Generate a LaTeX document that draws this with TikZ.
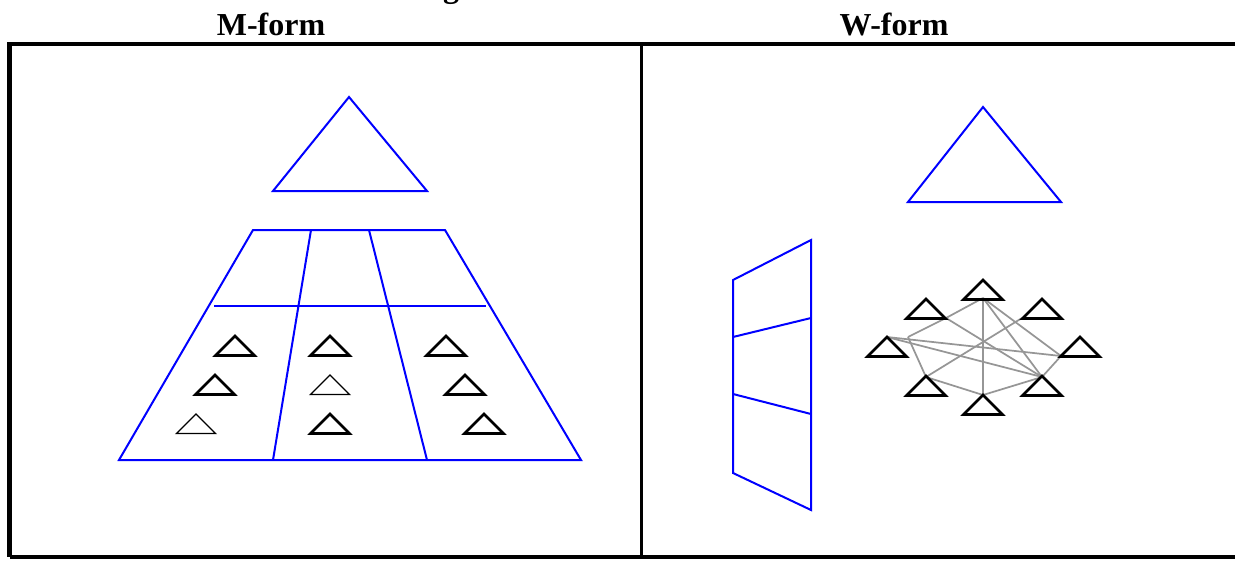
\documentclass[tikz,border=0pt]{standalone}
\usepackage{fontspec}
\setmainfont{Liberation Serif}
\definecolor{linkgray}{RGB}{150,150,150}
\tikzset{
  framethick/.style={draw=black, line width=3.3pt},
  framethin/.style={draw=black, line width=2.3pt},
  blueline/.style={draw=blue, line width=1.5pt, line join=miter},
  tri/.pic={\draw[pic actions] (-19.5,19.5) -- (0,0) -- (19.5,19.5) -- cycle;},
  thicktri/.style={draw=black, line width=1.9pt},
  thintri/.style={draw=black, line width=0.95pt},
  link/.style={draw=linkgray, line width=1.3pt},
  titletext/.style={font=\fontsize{24}{28}\selectfont\bfseries, inner sep=0pt, anchor=base}
}
\begin{document}
\begin{tikzpicture}[x=0.75pt,y=-0.75pt]
\useasboundingbox (0,0) rectangle (1235,561);

% titles
\node[titletext] (cut) at (451,-2.5) {g};
\node[titletext] (mtitle) at (271,35) {M-form};
\node[titletext] (wtitle) at (894,35) {W-form};

% frame
\draw[framethick] (1240,44) -- (9.5,44) -- (9.5,557);
\draw[framethin] (9.5,557) -- (1240,557);
\draw[framethin] (641.5,44) -- (641.5,557);

% ---------- M-form ----------
\draw[blueline] (273,191) -- (349,97) -- (427,191) -- cycle;
\coordinate (tl) at (253,230);
\coordinate (tr) at (445,230);
\coordinate (bl) at (119,460);
\coordinate (br) at (581,460);
\draw[blueline] (tl) -- (tr) -- (br) -- (bl) -- cycle;
\draw[blueline] (311,230) -- (273,460);
\draw[blueline] (369,230) -- (427,460);
\draw[blueline] (214,306) -- (486,306);

\pic[thicktri] (m11) at (235,336) {tri};
\pic[thicktri] (m12) at (215,375) {tri};
\pic[thintri]  (m13) at (196,414) {tri};
\pic[thicktri] (m21) at (330,336) {tri};
\pic[thintri]  (m22) at (330,375) {tri};
\pic[thicktri] (m23) at (330,414) {tri};
\pic[thicktri] (m31) at (446,336) {tri};
\pic[thicktri] (m32) at (465,375) {tri};
\pic[thicktri] (m33) at (484,414) {tri};

% ---------- W-form ----------
\draw[blueline] (908,202) -- (983,107) -- (1061,202) -- cycle;
\draw[blueline] (733,280) -- (811,240) -- (811,510) -- (733,473) -- cycle;
\draw[blueline] (733,337) -- (811,318);
\draw[blueline] (733,394) -- (811,414);

% network vertices
\coordinate (T)   at (983,298);
\coordinate (ULc) at (946,318);
\coordinate (URc) at (1022,318);
\coordinate (L)   at (887,337);
\coordinate (P)   at (908,337);
\coordinate (R)   at (1061,356);
\coordinate (LL)  at (926,377);
\coordinate (LR)  at (1042,377);
\coordinate (B)   at (983,395);

\draw[link] (T) -- (B);
\draw[link] (T) -- (ULc);
\draw[link] (T) -- (R);
\draw[link] (T) -- (LR);
\draw[link] (URc) -- (LL);
\draw[link] (ULc) -- (LR);
\draw[link] (L) -- (R);
\draw[link] (L) -- (LR);
\draw[link] (P) -- (ULc);
\draw[link] (P) -- (LL);
\draw[link] (LL) -- (B);
\draw[link] (LR) -- (B);
\draw[link] (R) -- (LR);

\pic[thicktri] (w1) at (983,280) {tri};
\pic[thicktri] (w2) at (926,299) {tri};
\pic[thicktri] (w3) at (1042,299) {tri};
\pic[thicktri] (w4) at (887,337) {tri};
\pic[thicktri] (w5) at (1080,337) {tri};
\pic[thicktri] (w6) at (926,376) {tri};
\pic[thicktri] (w7) at (1042,376) {tri};
\pic[thicktri] (w8) at (983,395) {tri};
\end{tikzpicture}
\end{document}
